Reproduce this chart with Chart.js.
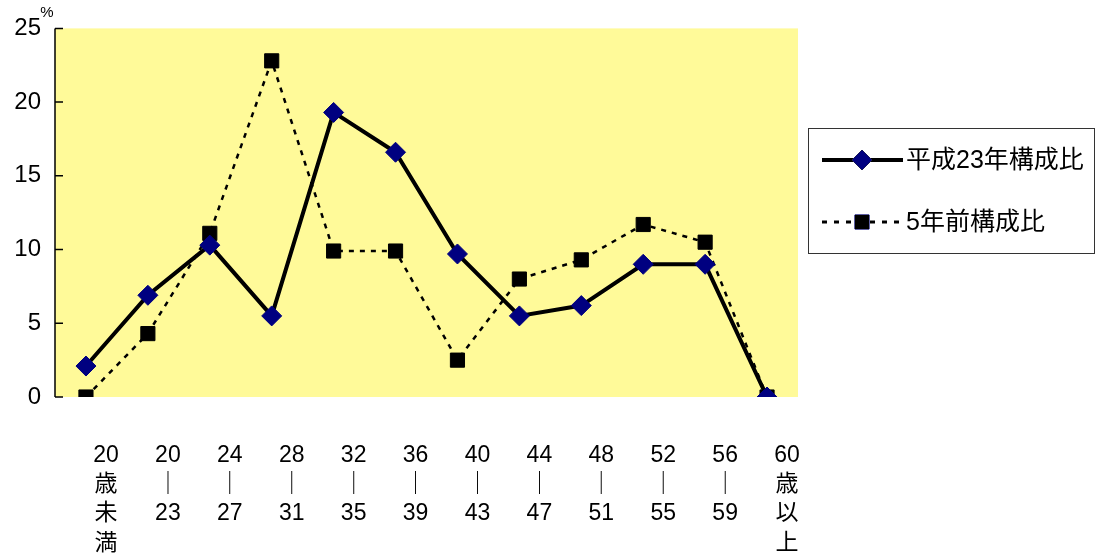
<!DOCTYPE html>
<html>
<head>
<meta charset="utf-8">
<script src="https://cdn.jsdelivr.net/npm/chart.js@4"></script>
<style>
  html, body { margin: 0; padding: 0; background: #fff; }
  #wrap { width: 1095px; height: 560px; }
</style>
</head>
<body>
<div id="wrap"><canvas id="grafico"></canvas></div>
<script>
// dados
const categorias = [
  ['20', '歳', '未', '満'],
  ['20', '｜', '23'],
  ['24', '｜', '27'],
  ['28', '｜', '31'],
  ['32', '｜', '35'],
  ['36', '｜', '39'],
  ['40', '｜', '43'],
  ['44', '｜', '47'],
  ['48', '｜', '51'],
  ['52', '｜', '55'],
  ['56', '｜', '59'],
  ['60', '歳', '以', '上']
];
const heisei23 = [2.1, 6.9, 10.3, 5.5, 19.3, 16.6, 9.7, 5.5, 6.2, 9.0, 9.0, 0.0];
const gonenMae = [0.0, 4.3, 11.1, 22.8, 9.9, 9.9, 2.5, 8.0, 9.3, 11.7, 10.5, 0.0];
const yTicks = [0, 5, 10, 15, 20, 25];

const FONTE = '"Liberation Sans", "Noto Sans CJK JP", sans-serif';

// fundo amarelo + marcas do eixo Y para dentro + "%" + legenda
const extras = {
  id: 'extras',
  beforeDraw(chart) {
    const a = chart.chartArea;
    const ctx = chart.ctx;
    ctx.save();
    ctx.fillStyle = '#FFFA99';
    ctx.fillRect(a.left, a.top, a.right - a.left, a.bottom - a.top);
    ctx.restore();
  },
  afterDraw(chart) {
    const a = chart.chartArea;
    const ctx = chart.ctx;
    const y = chart.scales.y;
    ctx.save();
    ctx.strokeStyle = '#000';
    ctx.lineWidth = 1.5;
    ctx.beginPath();
    ctx.moveTo(a.left, a.top);
    ctx.lineTo(a.left, a.bottom);
    yTicks.forEach(v => {
      const py = y.getPixelForValue(v);
      ctx.moveTo(a.left, py);
      ctx.lineTo(a.left + 8, py);
    });
    ctx.stroke();

    ctx.fillStyle = '#000';
    ctx.font = '15px ' + FONTE;
    ctx.textAlign = 'center';
    ctx.textBaseline = 'middle';
    ctx.fillText('%', 47, 13);

    // legenda
    const bx = 808, by = 128, bw = 286, bh = 125;
    ctx.lineWidth = 1;
    ctx.strokeStyle = '#333';
    ctx.strokeRect(bx + 0.5, by + 0.5, bw, bh);
    const ds = chart.data.datasets;
    const linhas = [160, 222];
    ds.forEach((d, i) => {
      const ly = linhas[i];
      ctx.save();
      ctx.strokeStyle = d.borderColor;
      ctx.lineWidth = i === 0 ? 4 : 3;
      ctx.setLineDash(d.borderDash ? [5, 7] : []);
      ctx.beginPath();
      ctx.moveTo(822, ly);
      ctx.lineTo(903, ly);
      ctx.stroke();
      ctx.restore();
      Chart.helpers.drawPoint(ctx, {
        pointStyle: d.pointStyle,
        radius: d.pointRadius,
        borderWidth: 1
      }, 862, ly);
      ctx.fillStyle = d.pointBackgroundColor;
      ctx.strokeStyle = d.pointBorderColor;
      ctx.fill();
      ctx.fillStyle = '#000';
      ctx.font = '25px ' + FONTE;
      ctx.textAlign = 'left';
      ctx.textBaseline = 'middle';
      ctx.fillText(d.label, 906, ly + 1);
    });
    ctx.restore();
  }
};

const ctx = document.getElementById('grafico').getContext('2d');
new Chart(ctx, {
  type: 'line',
  data: {
    labels: categorias,
    datasets: [
      {
        label: '平成23年構成比',
        data: heisei23,
        borderColor: '#000',
        borderWidth: 4,
        pointStyle: 'rectRot',
        pointRadius: 10,
        pointBackgroundColor: '#000080',
        pointBorderColor: '#000080',
        pointBorderWidth: 1,
        tension: 0
      },
      {
        label: '5年前構成比',
        data: gonenMae,
        borderColor: '#000',
        borderWidth: 2.5,
        borderDash: [5, 6],
        pointStyle: 'rect',
        pointRadius: 10,
        pointBackgroundColor: '#000',
        pointBorderColor: '#000',
        pointBorderWidth: 1,
        tension: 0
      }
    ]
  },
  options: {
    responsive: true,
    maintainAspectRatio: false,
    animation: false,
    layout: { padding: { top: 17, right: 297, bottom: 0, left: 0 } },
    plugins: {
      legend: { display: false },
      tooltip: { enabled: false }
    },
    scales: {
      x: {
        offset: true,
        grid: { display: false, drawTicks: false },
        border: { display: false },
        ticks: {
          color: '#000',
          font: { family: FONTE, size: 23, lineHeight: 1.27 },
          padding: 44,
          labelOffset: 20,
          maxRotation: 0,
          autoSkip: false
        },
        afterFit(scale) { scale.height = 163; }
      },
      y: {
        min: 0,
        max: 25,
        afterBuildTicks(scale) { scale.ticks = yTicks.map(v => ({ value: v })); },
        grid: { display: false, drawTicks: false },
        border: { display: false },
        ticks: {
          color: '#000',
          font: { family: FONTE, size: 24 },
          padding: 14
        },
        afterFit(scale) { scale.width = 55; }
      }
    }
  },
  plugins: [extras]
});
</script>
</body>
</html>
